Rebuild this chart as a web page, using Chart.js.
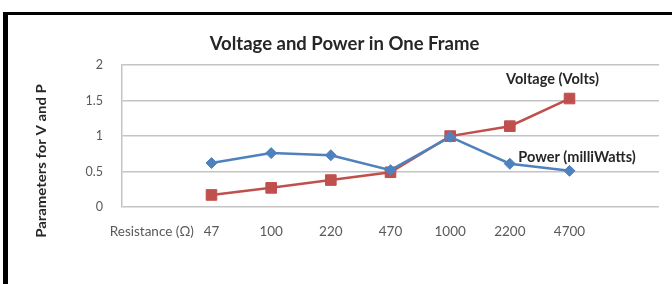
<!DOCTYPE html>
<html>
  <head>
    <title>Voltage and Power</title>
    <script src="https://cdn.jsdelivr.net/npm/chart.js"></script>
    <style>
      body {
        margin: 0;
        padding: 0;
        width: 672px;
        height: 284px;
        background: #ffffff;
        overflow: hidden;
        font-family: Lato, "Open Sans", Arial, sans-serif;
      }
      #frame {
        position: absolute;
        left: 3px;
        top: 12px;
        width: 720px;
        height: 300px;
        border-left: 5px solid #000000; /* khung đen bên trái */
        border-top: 3px solid #000000; /* khung đen phía trên */
      }
      #wrap {
        position: absolute;
        left: 0;
        top: 0;
        width: 672px;
        height: 284px;
      }
    </style>
  </head>
  <body>
    <div id="frame"></div>
    <div id="wrap"><canvas id="myChart" width="672" height="284"></canvas></div>
    <script>
      // dữ liệu
      const categories = ["Resistance (\u03A9)", "47", "100", "220", "470", "1000", "2200", "4700", ""];
      const powerValues = [null, 0.62, 0.76, 0.73, 0.52, 0.99, 0.61, 0.51, null];
      const voltageValues = [null, 0.17, 0.27, 0.38, 0.49, 1.0, 1.14, 1.53, null];
      const seriesNames = ["Power (milliWatts)", "Voltage (Volts)"];
      const yTicks = [0, 0.5, 1, 1.5, 2];
      const yTitle = "Parameters for V and P";

      const FONT = "Lato, 'Open Sans', Arial, sans-serif";

      // nhãn tên chuỗi cạnh điểm cuối + tiêu đề trục y
      const extraText = {
        id: "extraText",
        afterDatasetsDraw(chart) {
          const ctx = chart.ctx;
          const offsets = [
            { dx: 7.5, dy: -14 },
            { dx: -17, dy: -19 },
          ];
          chart.data.datasets.forEach((ds, i) => {
            const meta = chart.getDatasetMeta(i);
            let last = -1;
            ds.data.forEach((v, j) => {
              if (v !== null) last = j;
            });
            const pt = meta.data[last];
            ctx.save();
            ctx.font = "bold 14.5px " + FONT;
            ctx.fillStyle = "#262626";
            ctx.textAlign = "center";
            ctx.textBaseline = "middle";
            ctx.fillText(ds.label, pt.x + offsets[i].dx, pt.y + offsets[i].dy);
            ctx.restore();
          });

          // tiêu đề trục y (hơi kéo dài theo chiều dọc như ảnh gốc)
          ctx.save();
          ctx.translate(42, 161);
          ctx.rotate(-Math.PI / 2);
          ctx.scale(1.15, 1);
          ctx.font = "bold 13px " + FONT;
          ctx.fillStyle = "#262626";
          ctx.textAlign = "center";
          ctx.textBaseline = "middle";
          ctx.fillText(yTitle, 0, 0);
          ctx.restore();
        },
      };

      const ctx = document.getElementById("myChart").getContext("2d");
      new Chart(ctx, {
        type: "line",
        data: {
          labels: categories,
          datasets: [
            {
              label: seriesNames[0],
              data: powerValues,
              borderColor: "#4F81BD",
              backgroundColor: "#4F81BD",
              borderWidth: 2.5,
              pointStyle: "rectRot",
              pointRadius: 5.5,
              pointBorderWidth: 1,
              tension: 0,
            },
            {
              label: seriesNames[1],
              data: voltageValues,
              borderColor: "#C0504D",
              backgroundColor: "#C0504D",
              borderWidth: 2.5,
              pointStyle: "rect",
              pointRadius: 7.5,
              pointBorderWidth: 1,
              tension: 0,
            },
          ],
        },
        options: {
          responsive: false,
          animation: false,
          layout: {
            padding: { left: 30, right: 13, top: 0, bottom: 37 },
          },
          scales: {
            x: {
              offset: true,
              afterFit: (s) => {
                s.height = 40;
              },
              grid: { display: false, drawTicks: false },
              border: { display: false },
              ticks: {
                autoSkip: false,
                maxRotation: 0,
                padding: 17,
                color: "#595959",
                font: { family: FONT, size: 13.5 },
              },
            },
            y: {
              min: 0,
              max: 2,
              afterFit: (s) => {
                s.width = 92;
              },
              afterBuildTicks: (s) => {
                s.ticks = yTicks.map((v) => ({ value: v }));
              },
              grid: { color: "#c4c4c4", lineWidth: 1.5, drawTicks: false },
              border: { display: true, color: "#c4c4c4", width: 1.5 },
              ticks: {
                padding: 19,
                color: "#595959",
                font: { family: FONT, size: 12.5 },
                callback: (v) => String(v),
              },
            },
          },
          plugins: {
            legend: { display: false },
            tooltip: { enabled: false },
            title: {
              display: true,
              text: "Voltage and Power in One Frame",
              color: "#262626",
              font: { family: FONT, size: 18.5, weight: "bold" },
              padding: { top: 33, bottom: 10 },
            },
          },
        },
        plugins: [extraText],
      });
    </script>
  </body>
</html>
